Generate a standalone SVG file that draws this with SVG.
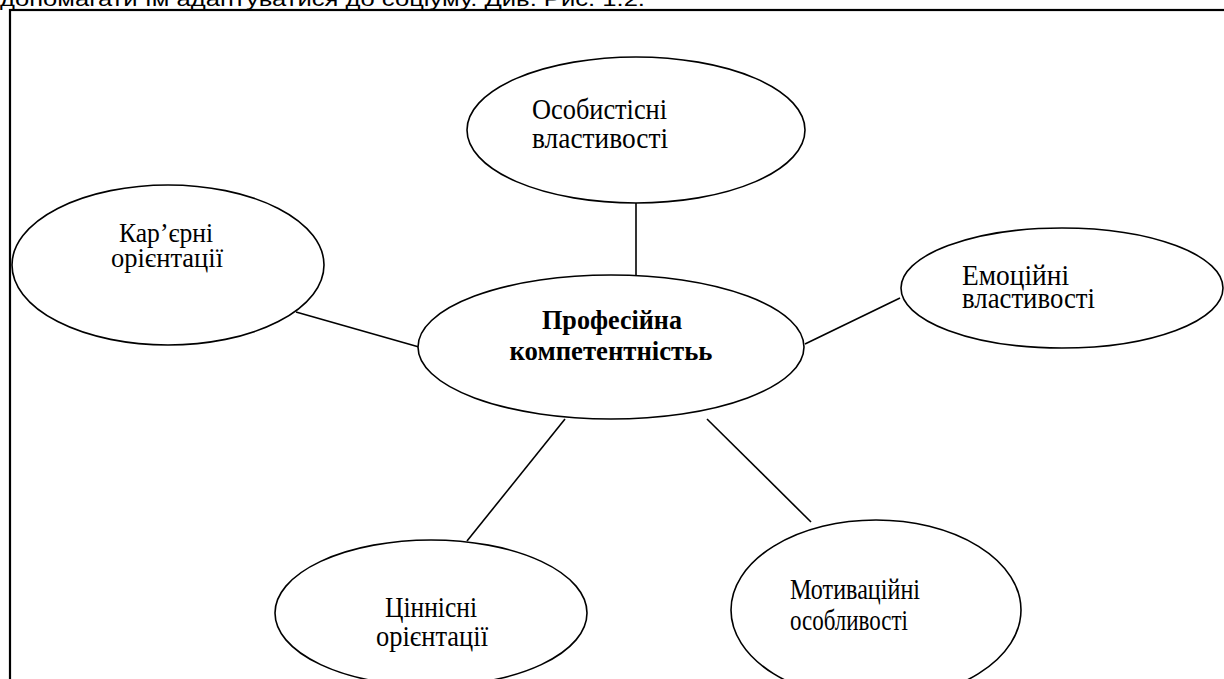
<svg xmlns="http://www.w3.org/2000/svg" width="1224" height="679" viewBox="0 0 1224 679">
<style>
.n{fill:#fff;stroke:#000;stroke-width:1.6}
.c{stroke:#000;stroke-width:1.6;fill:none}
.t{font-family:"Liberation Serif","Times New Roman",serif;font-size:25px;fill:#000}
.b{font-weight:bold}
.m{text-anchor:middle}
</style>
<rect width="1224" height="679" fill="#fff"/>
<text x="0" y="6" font-family="Liberation Sans, Arial, sans-serif" font-size="21" textLength="645" lengthAdjust="spacingAndGlyphs">допомагати їм адаптуватися до соціуму. Див. Рис. 1.2.</text>
<rect x="10" y="10" width="1240" height="720" fill="none" stroke="#000" stroke-width="2.2"/>
<g id="connectors">
<line class="c" x1="636" y1="203" x2="636" y2="275"/>
<line class="c" x1="296" y1="312" x2="419" y2="347"/>
<line class="c" x1="805" y1="344" x2="900" y2="298"/>
<line class="c" x1="565" y1="419" x2="467" y2="541"/>
<line class="c" x1="707" y1="419" x2="811" y2="522"/>
</g>
<g id="n-personal">
<ellipse class="n" cx="636" cy="130" rx="169" ry="73"/>
<text class="t" transform="translate(532 119) scale(1 1.22)" textLength="135" lengthAdjust="spacingAndGlyphs">Особистісні</text>
<text class="t" transform="translate(532 148) scale(1 1.22)" textLength="136" lengthAdjust="spacingAndGlyphs">властивості</text>
</g>
<g id="n-career">
<ellipse class="n" cx="168" cy="265" rx="156" ry="80"/>
<text class="t m" transform="translate(166 242) scale(1 1.12)" textLength="94" lengthAdjust="spacingAndGlyphs">Кар’єрні</text>
<text class="t m" transform="translate(167 267) scale(1 1.12)" textLength="112" lengthAdjust="spacingAndGlyphs">орієнтації</text>
</g>
<g id="n-emotional">
<ellipse class="n" cx="1062" cy="288" rx="161" ry="60"/>
<text class="t" transform="translate(962 285) scale(1 1.2)" textLength="107" lengthAdjust="spacingAndGlyphs">Емоційні</text>
<text class="t" transform="translate(962 308) scale(1 1.2)" textLength="133" lengthAdjust="spacingAndGlyphs">властивості</text>
</g>
<g id="n-center">
<ellipse class="n" cx="611" cy="347" rx="193" ry="72"/>
<text class="t b m" transform="translate(612 329) scale(1 1.08)" textLength="140" lengthAdjust="spacingAndGlyphs">Професійна</text>
<text class="t b m" transform="translate(611 360) scale(1 1.08)" textLength="203" lengthAdjust="spacingAndGlyphs">компетентністьь</text>
</g>
<g id="n-values">
<ellipse class="n" cx="431" cy="613" rx="156" ry="73"/>
<text class="t m" transform="translate(431 617) scale(1 1.22)" textLength="92" lengthAdjust="spacingAndGlyphs">Ціннісні</text>
<text class="t m" transform="translate(432 646) scale(1 1.22)" textLength="112" lengthAdjust="spacingAndGlyphs">орієнтації</text>
</g>
<g id="n-motivation">
<ellipse class="n" cx="876" cy="610" rx="145" ry="90"/>
<text class="t" transform="translate(790 599) scale(1 1.22)" textLength="130" lengthAdjust="spacingAndGlyphs">Мотиваційні</text>
<text class="t" transform="translate(790 630) scale(1 1.22)" textLength="118" lengthAdjust="spacingAndGlyphs">особливості</text>
</g>
</svg>
